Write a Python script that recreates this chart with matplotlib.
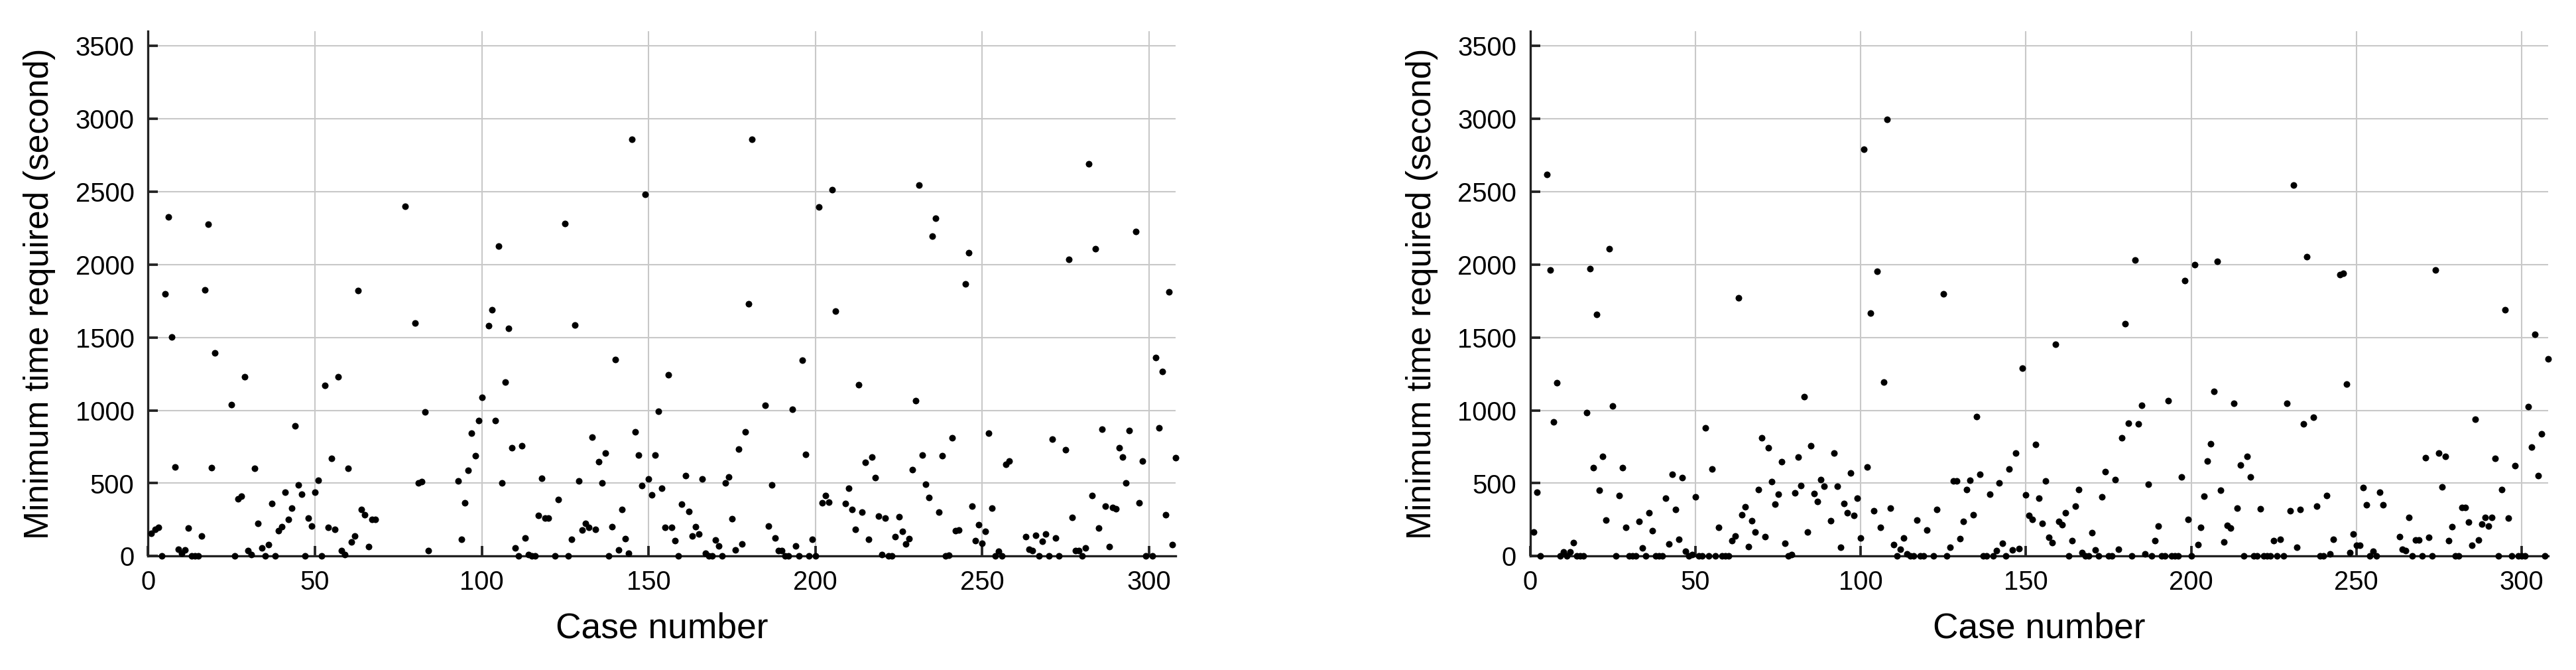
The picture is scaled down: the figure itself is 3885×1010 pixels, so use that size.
import matplotlib.pyplot as plt

plt.rcParams['font.family'] = ['Liberation Sans', 'DejaVu Sans']

# left panel: case number -> minimum time (s)
cases_a = [1, 2, 3, 4, 5, 6, 7, 8, 9, 10, 11, 12, 13, 14, 15, 16, 17, 18, 19, 20,
           25, 26, 27, 28, 29, 30, 31, 32, 33, 34, 35, 36, 37, 38, 39, 40, 41, 42, 43, 44,
           45, 46, 47, 48, 49, 50, 51, 52, 53, 54, 55, 56, 57, 58, 59, 60, 61, 62, 63, 64,
           65, 66, 67, 68, 77, 80, 81, 82, 83, 84, 93, 94, 95, 96, 97, 98, 99, 100, 102, 103,
           104, 105, 106, 107, 108, 109, 110, 111, 112, 113, 114, 115, 116, 117, 118, 119, 120, 122, 123, 125,
           126, 127, 128, 129, 130, 131, 132, 133, 134, 135, 136, 137, 138, 139, 140, 141, 142, 143, 144, 145,
           146, 147, 148, 149, 150, 151, 152, 153, 154, 155, 156, 157, 158, 159, 160, 161, 162, 163, 164, 165,
           166, 167, 168, 169, 170, 171, 172, 173, 174, 175, 176, 177, 178, 179, 180, 181, 185, 186, 187, 188,
           189, 190, 191, 192, 193, 194, 195, 196, 197, 198, 199, 200, 201, 202, 203, 204, 205, 206, 209, 210,
           211, 212, 213, 214, 215, 216, 217, 218, 219, 220, 221, 222, 223, 224, 225, 226, 227, 228, 229, 230,
           231, 232, 233, 234, 235, 236, 237, 238, 239, 240, 241, 242, 243, 245, 246, 247, 248, 249, 250, 251,
           252, 253, 254, 255, 256, 257, 258, 263, 264, 265, 266, 267, 268, 269, 270, 271, 272, 273, 275, 276,
           277, 278, 279, 280, 281, 282, 283, 284, 285, 286, 287, 288, 289, 290, 291, 292, 293, 294, 296, 297,
           298, 299, 301, 302, 303, 304, 305, 306, 307, 308]
times_a = [155, 183, 198, 0, 1800, 2329, 1502, 612, 48, 20, 40, 193, 0, 0, 0, 138, 1826, 2279, 607, 1395,
           1038, 0, 395, 412, 1229, 38, 12, 600, 226, 55, 0, 79, 362, 0, 174, 202, 436, 252, 328, 893,
           488, 426, 0, 262, 205, 436, 519, 0, 1169, 198, 669, 183, 1229, 38, 12, 600, 98, 138, 1824, 321,
           283, 64, 250, 250, 2400, 1600, 502, 512, 990, 38, 517, 117, 364, 588, 845, 688, 929, 1090, 1583, 1690,
           929, 2129, 500, 1193, 1564, 745, 55, 0, 757, 126, 12, 0, 0, 279, 536, 260, 260, 0, 388, 2281,
           0, 114, 1586, 517, 179, 226, 198, 817, 183, 648, 500, 707, 0, 202, 1348, 40, 321, 119, 21, 2860,
           852, 693, 483, 2483, 531, 421, 693, 993, 464, 198, 1245, 198, 107, 0, 357, 552, 307, 138, 202, 150,
           531, 19, 0, 0, 112, 69, 0, 502, 543, 257, 43, 733, 83, 852, 1733, 2860, 1036, 207, 488, 126,
           36, 36, 0, 0, 1007, 71, 0, 1345, 698, 0, 117, 0, 2395, 364, 417, 371, 2514, 1679, 362, 464,
           321, 183, 1174, 302, 645, 114, 681, 538, 274, 12, 262, 0, 0, 133, 269, 169, 83, 119, 595, 1067,
           2545, 695, 495, 402, 2195, 2319, 302, 688, 0, 7, 812, 174, 179, 1867, 2081, 343, 107, 214, 86, 171,
           845, 329, 0, 33, 0, 631, 650, 133, 48, 38, 143, 0, 102, 150, 0, 802, 124, 0, 731, 2036,
           264, 36, 36, 0, 55, 2690, 414, 2110, 193, 871, 343, 64, 333, 324, 743, 681, 500, 862, 2229, 364,
           652, 0, 0, 1360, 881, 1267, 283, 1812, 79, 674]

# right panel
cases_b = [1, 2, 3, 5, 6, 7, 8, 9, 10, 11, 12, 13, 14, 15, 16, 17, 18, 19, 20, 21,
           22, 23, 24, 25, 26, 27, 28, 29, 30, 31, 32, 33, 34, 35, 36, 37, 38, 39, 40, 41,
           42, 43, 44, 45, 46, 47, 48, 49, 50, 51, 52, 53, 54, 55, 56, 57, 58, 59, 60, 61,
           62, 63, 64, 65, 66, 67, 68, 69, 70, 71, 72, 73, 74, 75, 76, 77, 78, 79, 80, 81,
           82, 83, 84, 85, 86, 87, 88, 89, 91, 92, 93, 94, 95, 96, 97, 98, 99, 100, 101, 102,
           103, 104, 105, 106, 107, 108, 109, 110, 111, 112, 113, 114, 115, 116, 117, 118, 119, 120, 122, 123,
           125, 126, 127, 128, 129, 130, 131, 132, 133, 134, 135, 136, 137, 138, 139, 140, 141, 142, 143, 144,
           145, 146, 147, 148, 149, 150, 151, 152, 153, 154, 155, 156, 157, 158, 159, 160, 161, 162, 163, 164,
           165, 166, 167, 168, 169, 170, 171, 172, 173, 174, 175, 176, 177, 178, 179, 180, 181, 182, 183, 184,
           185, 186, 187, 188, 189, 190, 191, 192, 193, 194, 195, 196, 197, 198, 199, 200, 201, 202, 203, 204,
           205, 206, 207, 208, 209, 210, 211, 212, 213, 214, 215, 216, 217, 218, 219, 220, 221, 222, 223, 224,
           225, 226, 227, 228, 229, 230, 231, 232, 233, 234, 235, 237, 238, 239, 240, 241, 242, 243, 245, 246,
           247, 248, 249, 250, 251, 252, 253, 254, 255, 256, 257, 258, 263, 264, 265, 266, 267, 268, 269, 270,
           271, 272, 273, 274, 275, 276, 277, 278, 279, 280, 281, 282, 283, 284, 285, 286, 287, 288, 289, 290,
           291, 292, 293, 294, 295, 296, 297, 298, 299, 300, 301, 302, 303, 304, 305, 306, 307, 308]
times_b = [166, 438, 0, 2617, 1965, 921, 1190, 0, 29, 0, 29, 94, 0, 0, 0, 984, 1972, 608, 1659, 452,
           685, 245, 2107, 1029, 0, 416, 608, 195, 0, 0, 0, 238, 55, 0, 296, 176, 0, 0, 0, 397,
           82, 563, 322, 113, 539, 31, 0, 12, 406, 0, 0, 880, 0, 599, 0, 197, 0, 0, 0, 108,
           137, 1772, 284, 339, 65, 243, 164, 457, 810, 132, 745, 512, 356, 426, 647, 89, 0, 12, 433, 678,
           486, 1092, 164, 758, 430, 373, 524, 481, 243, 709, 481, 60, 361, 298, 572, 279, 397, 123, 2790, 613,
           1667, 310, 1953, 195, 1193, 2997, 327, 77, 0, 48, 125, 17, 0, 0, 248, 0, 0, 178, 0, 322,
           1801, 0, 60, 517, 517, 120, 236, 457, 522, 284, 957, 563, 0, 0, 423, 0, 36, 503, 89, 0,
           599, 41, 705, 51, 1289, 421, 281, 253, 765, 399, 226, 517, 130, 94, 1455, 240, 214, 296, 0, 108,
           344, 457, 24, 0, 0, 159, 41, 0, 406, 580, 0, 0, 527, 48, 810, 1595, 911, 0, 2032, 907,
           1034, 14, 491, 0, 108, 204, 0, 0, 1068, 0, 0, 0, 544, 1890, 250, 0, 1998, 77, 195, 409,
           654, 770, 1130, 2020, 450, 96, 209, 192, 1049, 327, 623, 0, 683, 541, 0, 0, 325, 0, 0, 0,
           108, 0, 115, 0, 1049, 313, 2545, 60, 322, 907, 2056, 952, 342, 0, 0, 414, 17, 115, 1931, 1941,
           1178, 22, 152, 75, 75, 469, 354, 0, 34, 0, 438, 354, 132, 48, 38, 267, 0, 111, 111, 0,
           676, 127, 0, 1965, 705, 474, 685, 106, 202, 0, 0, 332, 332, 233, 75, 938, 111, 219, 267, 204,
           267, 671, 0, 455, 1688, 262, 0, 620, 0, 0, 0, 1025, 746, 1522, 551, 837, 0, 1352]

fig = plt.figure(figsize=(12.953, 3.367), dpi=300)
ax1 = fig.add_axes([0.0575, 0.170, 0.3988, 0.783])
ax2 = fig.add_axes([0.5939, 0.170, 0.3950, 0.783])

for ax, cases, times in [(ax1, cases_a, times_a), (ax2, cases_b, times_b)]:
    ax.plot(cases, times, 'o', color='black', markersize=2.4, markeredgewidth=0,
            clip_on=False, zorder=3)
    ax.set_xlim(0, 308)
    ax.set_ylim(0, 3600)
    ax.set_xticks(range(0, 301, 50))
    ax.set_yticks(range(0, 3501, 500))
    ax.grid(True, color='#c8c8c8', linewidth=0.5)
    ax.set_axisbelow(True)
    for side in ['top', 'right']:
        ax.spines[side].set_visible(False)
    for side in ['left', 'bottom']:
        ax.spines[side].set_linewidth(0.8)
        ax.spines[side].set_color('#222222')
    ax.tick_params(direction='in', length=3.6, width=0.9, color='#222222',
                   labelsize=9.6, pad=5)
    ax.set_xlabel('Case number', fontsize=12.8, labelpad=6)
    ax.set_ylabel('Minimum time required (second)', fontsize=12.4, labelpad=7)

fig.savefig('out.png', dpi=300)
